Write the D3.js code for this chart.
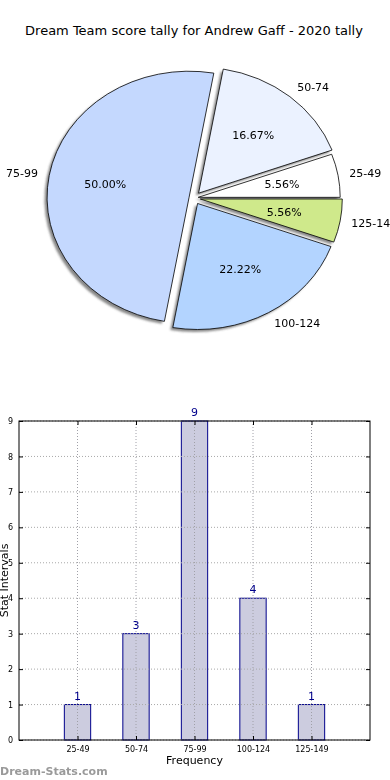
<!DOCTYPE html>
<html>
<head>
<meta charset="utf-8">
<script src="https://cdn.jsdelivr.net/npm/d3@7"></script>
<style>
  html, body { margin: 0; padding: 0; background: #fff; }
  svg { display: block; font-family: "DejaVu Sans", sans-serif; }
</style>
</head>
<body>
<svg id="chart" width="390" height="780"></svg>
<script>
// ---- data ----
const categories = ["25-49", "50-74", "75-99", "100-124", "125-149"];
const counts = [1, 3, 9, 4, 1];
const yTicks = [0, 1, 2, 3, 4, 5, 6, 7, 8, 9];
const titleText = "Dream Team score tally for Andrew Gaff - 2020 tally";
const xLabelText = "Frequency";
const yLabelText = "Stat Intervals";
const watermarkText = "Dream-Stats.com";

// ---- styles ----
const pieColors = ["#ffffff", "#ebf2ff", "#c4d8fe", "#b3d4ff", "#cfe98b"];
const explode = [0.03, 0.05, 0.035, 0.05, 0.045];

(function () {
const svg = d3.select("#chart");

svg.append("text")
  .attr("x", 194).attr("y", 35)
  .attr("text-anchor", "middle")
  .attr("font-size", 13).attr("fill", "#000")
  .text(titleText);

// ---- pie ----
const cx = 194, cy = 198, rx = 142, ry = 126;
const total = d3.sum(counts);
const pie = d3.pie().sort(null).value(d => d)
  .startAngle(Math.PI / 2).endAngle(Math.PI / 2 - 2 * Math.PI);
const arcs = pie(counts);
const arc = d3.arc().innerRadius(0).outerRadius(1);

const defs = svg.append("defs");
defs.append("filter").attr("id", "blur")
  .attr("filterUnits", "userSpaceOnUse")
  .attr("x", 0).attr("y", 40).attr("width", 390).attr("height", 330)
  .append("feGaussianBlur").attr("stdDeviation", 0.9);

const pieG = svg.append("g");
function wedgeCenter(d, i) {
  const m = (d.startAngle + d.endAngle) / 2;
  return [cx + explode[i] * rx * Math.sin(m), cy - explode[i] * ry * Math.cos(m)];
}
const shadowG = pieG.append("g").attr("filter", "url(#blur)");
arcs.forEach((d, i) => {
  const [wx, wy] = wedgeCenter(d, i);
  shadowG.append("path")
    .attr("d", arc(d))
    .attr("transform", `translate(${wx - 2.6},${wy + 2.4}) scale(${rx},${ry})`)
    .attr("fill", "#4a4a4a").attr("fill-opacity", 0.65);
});
arcs.forEach((d, i) => {
  const [wx, wy] = wedgeCenter(d, i);
  pieG.append("path")
    .attr("d", arc(d))
    .attr("transform", `translate(${wx},${wy}) scale(${rx},${ry})`)
    .attr("fill", pieColors[i])
    .attr("stroke", "#000").attr("stroke-width", 0.8)
    .attr("vector-effect", "non-scaling-stroke")
    .attr("stroke-linejoin", "miter");
});
const pctFmt = d3.format(".2f");
arcs.forEach((d, i) => {
  const [wx, wy] = wedgeCenter(d, i);
  const m = (d.startAngle + d.endAngle) / 2;
  const sx = Math.sin(m), sy = -Math.cos(m);
  const lx = wx + 1.08 * rx * sx, ly = wy + 1.1 * ry * sy;
  pieG.append("text")
    .attr("x", lx).attr("y", ly)
    .attr("dy", "0.35em")
    .attr("text-anchor", sx > 0 ? "start" : "end")
    .attr("font-size", 11).attr("fill", "#000")
    .text(categories[i]);
  pieG.append("text")
    .attr("x", wx + 0.6 * rx * sx).attr("y", wy + 0.6 * ry * sy)
    .attr("dy", "0.35em")
    .attr("text-anchor", "middle")
    .attr("font-size", 11).attr("fill", "#000")
    .text(pctFmt(counts[i] / total * 100) + "%");
});

// ---- bar chart ----
const pL = 19, pR = 370, pT = 421, pB = 740;
const x = d3.scaleLinear().domain([-1, categories.length]).range([pL, pR]);
const y = d3.scaleLinear().domain([0, 9]).range([pB, pT]);
const barW = 0.45;
const bg = svg.append("g");

bg.selectAll("rect.bar").data(counts).join("rect")
  .attr("x", (d, i) => x(i - barW / 2))
  .attr("width", (d, i) => x(i + barW / 2) - x(i - barW / 2))
  .attr("y", d => y(d))
  .attr("height", d => pB - y(d))
  .attr("fill", "#ccccdf")
  .attr("stroke", "#00008b").attr("stroke-width", 1);

bg.selectAll("line.gy").data(yTicks).join("line")
  .attr("x1", pL).attr("x2", pR)
  .attr("y1", d => y(d)).attr("y2", d => y(d))
  .attr("stroke", "#a8a8a8").attr("stroke-width", 1)
  .attr("stroke-dasharray", "1,2");
bg.selectAll("line.gx").data(categories).join("line")
  .attr("x1", (d, i) => x(i)).attr("x2", (d, i) => x(i))
  .attr("y1", pT).attr("y2", pB)
  .attr("stroke", "#a0a0a8").attr("stroke-width", 1)
  .attr("stroke-dasharray", "1,2");

bg.selectAll("text.val").data(counts).join("text")
  .attr("x", (d, i) => x(i)).attr("y", d => y(d) - 5)
  .attr("text-anchor", "middle")
  .attr("font-size", 11).attr("fill", "#00008b")
  .text(d => d);

bg.append("rect")
  .attr("x", pL).attr("y", pT)
  .attr("width", pR - pL).attr("height", pB - pT)
  .attr("fill", "none").attr("stroke", "#000").attr("stroke-width", 1);

const yAxisL = d3.axisLeft(y).tickValues(yTicks).tickSizeInner(-4).tickSizeOuter(0).tickPadding(6);
const yAxisR = d3.axisRight(y).tickValues(yTicks).tickSizeInner(-4).tickSizeOuter(0).tickFormat("");
const xAxisB = d3.axisBottom(x).tickValues(d3.range(categories.length))
  .tickFormat(i => categories[i]).tickSizeInner(-4).tickSizeOuter(0).tickPadding(6);
const xAxisT = d3.axisTop(x).tickValues(d3.range(categories.length))
  .tickSizeInner(-4).tickSizeOuter(0).tickFormat("");

function styleAxis(g) {
  g.select(".domain").remove();
  g.selectAll(".tick line").attr("stroke", "#000");
  g.selectAll(".tick text").attr("font-size", 8).attr("fill", "#000")
    .attr("font-family", "DejaVu Sans, sans-serif");
}
svg.append("g").attr("transform", `translate(${pL},0)`).call(yAxisL).call(styleAxis);
svg.append("g").attr("transform", `translate(${pR},0)`).call(yAxisR).call(styleAxis);
svg.append("g").attr("transform", `translate(0,${pB})`).call(xAxisB).call(styleAxis);
svg.append("g").attr("transform", `translate(0,${pT})`).call(xAxisT).call(styleAxis);

svg.append("text")
  .attr("x", (pL + pR) / 2).attr("y", 764)
  .attr("text-anchor", "middle")
  .attr("font-size", 11).attr("fill", "#000")
  .text(xLabelText);
svg.append("text")
  .attr("transform", `translate(8,${(pT + pB) / 2}) rotate(-90)`)
  .attr("text-anchor", "middle")
  .attr("font-size", 11).attr("fill", "#000")
  .text(yLabelText);

svg.append("text")
  .attr("x", 0).attr("y", 775)
  .attr("font-size", 11).attr("font-weight", "bold")
  .attr("fill", "#9a9a9a")
  .text(watermarkText);
})();
</script>
</body>
</html>
